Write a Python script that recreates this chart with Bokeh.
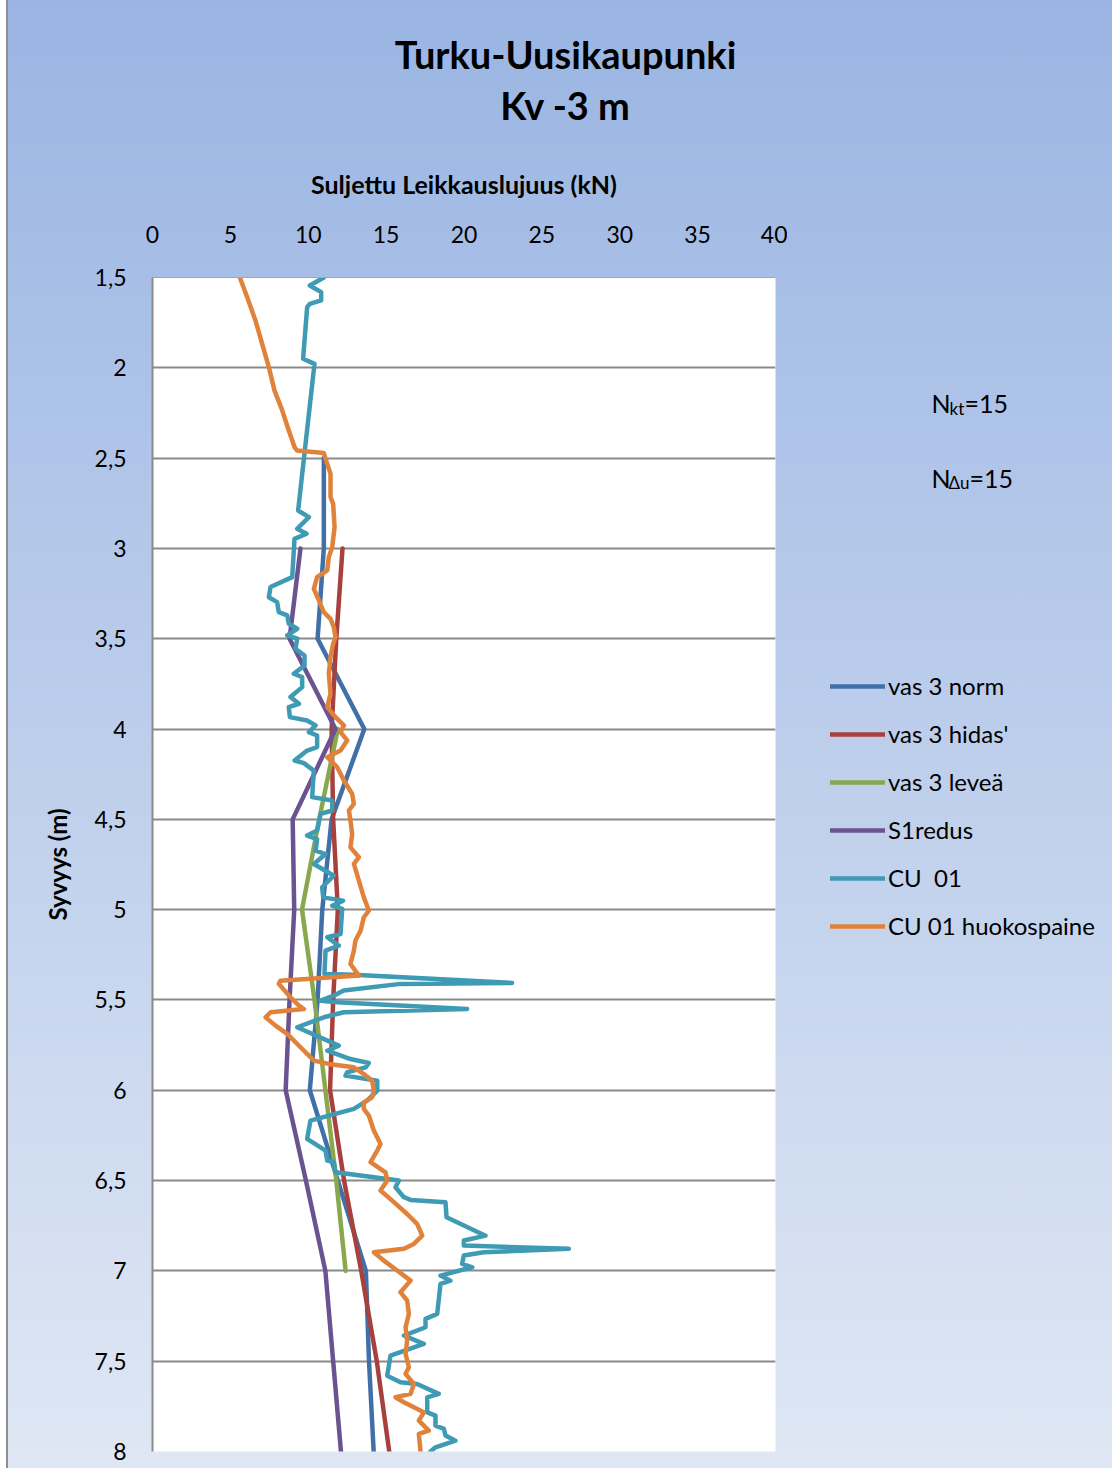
from bokeh.plotting import figure
from bokeh.layouts import column, row
from bokeh.models import Range1d, FixedTicker, Label, Legend, LegendItem
from bokeh.embed import file_html
from bokeh.resources import INLINE

FONT = "Lato"
NAN = float("nan")

# ---- data (depth m, undrained shear strength kN) ----
norm_depth = [2.5, 3.0, 3.5, 4.0, 4.5, 5.0, 5.5, 6.0, 6.5, 7.0, 7.5, 8.0]
norm_su = [11.0, 11.0, 10.6, 13.6, 11.5, 10.9, 10.6, 10.1, 11.9, 13.7, 13.9, 14.2]

hidas_depth = [3.0, 3.5, 4.0, 4.5, 5.0, 5.5, 6.0, 6.5, 7.0, 7.5, 8.0]
hidas_su = [12.2, 11.8, 11.5, 11.6, 11.9, 11.6, 11.4, 12.3, 13.4, 14.4, 15.2]

levea_depth = [4.0, 4.5, 5.0, 5.5, 6.0, 6.5, 7.0]
levea_su = [11.9, 10.7, 9.6, 10.4, 11.1, 11.8, 12.4]

s1_depth = [3.0, 3.5, 4.0, 4.5, 5.0, 5.5, 6.0, 6.5, 7.0, 7.5, 8.0]
s1_su = [9.5, 8.8, 11.75, 9.0, 9.1, 8.8, 8.55, 9.85, 11.1, 11.6, 12.1]

cu_depth = [1.5, 1.544, 1.581, 1.627, 1.646, 1.664, 1.95, 1.978, 2.79, 2.827, 2.891, 2.919,
            2.947, 3.159, 3.214, 3.27, 3.297, 3.353, 3.371, 3.417, 3.445, 3.482, 3.5,
            3.556, 3.593, 3.648, 3.694, 3.713, 3.768, 3.823, 3.86, 3.879, 3.934, 3.953,
            3.98, 4.017, 4.036, 4.1, 4.119, 4.174, 4.189, 4.23, 4.377, 4.396, 4.451,
            4.47, 4.562, 4.59, 4.609, 4.673, 4.692, 4.747, 4.812, 4.876, 4.932, 4.95,
            4.978, 4.996, 5.135, 5.153, 5.199, 5.227, 5.356, 5.36, 5.406, 5.411, 5.448,
            5.476, 5.504, 5.513, 5.55, 5.568, 5.596, 5.651, 5.753, 5.781, 5.827, 5.849,
            5.873, 5.9, 5.919, 5.947, 6.002, 6.057, 6.103, 6.168, 6.269, 6.334, 6.389,
            6.398, 6.454, 6.5, 6.537, 6.592, 6.607, 6.62, 6.703, 6.805, 6.832, 6.86,
            6.878, 6.897, 6.915, 6.961, 6.98, 7.026, 7.054, 7.072, 7.238, 7.266, 7.312,
            7.358, 7.404, 7.469, 7.58, 7.617, 7.626, 7.681, 7.7, 7.783, 7.801, 7.857,
            7.875, 7.912, 7.94, 7.977, 8.0]
cu_su = [11.0, 10.1, 10.83, 10.83, 10.1, 9.93, 9.67, 10.4, 9.35, 10.04, 9.29, 9.89,
         9.12, 8.97, 7.58, 7.47, 8.0, 8.11, 8.65, 8.75, 9.29, 8.65, 9.29,
         9.18, 9.76, 9.76, 9.07, 9.61, 9.61, 8.86, 9.4, 8.75, 8.82, 9.93,
         10.47, 10.04, 10.57, 10.57, 9.93, 9.12, 9.72, 10.36, 10.25, 11.54, 11.54,
         10.79, 10.57, 9.93, 10.57, 10.47, 11.11, 10.36, 11.64, 10.89, 10.96, 12.24,
         11.54, 12.18, 12.07, 11.22, 11.96, 11.11, 11.04, 12.93, 23.09, 15.92, 12.28,
         11.64, 10.79, 11.86, 20.2, 12.28, 11.0, 9.29, 11.96, 11.22, 12.71, 13.89,
         13.68, 12.5, 12.39, 14.43, 14.43, 13.78, 12.93, 10.14, 9.93, 11.11, 11.22,
         11.64, 11.75, 15.82, 15.6, 16.14, 16.57, 18.81, 18.88, 21.38, 19.99, 19.99,
         26.73, 21.27, 19.99, 19.88, 20.53, 18.49, 19.13, 18.49, 18.28, 17.53, 17.53,
         16.14, 17.42, 15.28, 15.07, 15.92, 16.99, 18.38, 17.64, 17.64, 18.17, 18.17,
         18.71, 18.81, 19.45, 18.17, 17.85]

pore_depth = [1.5, 1.609, 1.738, 1.867, 1.996, 2.125, 2.236, 2.347, 2.439, 2.458, 2.472,
              2.532, 2.587, 2.716, 2.753, 2.882, 2.993, 3.048, 3.122, 3.159, 3.224, 3.288,
              3.353, 3.39, 3.436, 3.491, 3.528, 3.602, 3.694, 3.805, 3.879, 3.934, 3.98,
              4.017, 4.063, 4.119, 4.156, 4.211, 4.285, 4.359, 4.414, 4.451, 4.507, 4.581,
              4.655, 4.71, 4.747, 4.839, 4.932, 5.005, 5.042, 5.116, 5.171, 5.227, 5.301,
              5.365, 5.393, 5.411, 5.485, 5.531, 5.55, 5.568, 5.596, 5.642, 5.688, 5.762,
              5.799, 5.836, 5.854, 5.873, 5.91, 5.947, 6.002, 6.039, 6.067, 6.103, 6.14,
              6.223, 6.297, 6.334, 6.398, 6.454, 6.5, 6.555, 6.611, 6.685, 6.74, 6.805,
              6.851, 6.878, 6.897, 6.943, 6.998, 7.054, 7.118, 7.164, 7.238, 7.312, 7.386,
              7.46, 7.534, 7.57, 7.626, 7.681, 7.7, 7.727, 7.783, 7.829, 7.884, 7.903, 8.0]
pore_su = [5.61, 6.08, 6.61, 7.04, 7.47, 7.83, 8.33, 8.75, 9.12, 9.29, 11.0,
           11.22, 11.43, 11.43, 11.6, 11.69, 11.54, 11.32, 11.22, 10.57, 10.36, 10.68,
           11.0, 11.43, 11.64, 11.75, 11.6, 11.43, 11.32, 11.43, 11.22, 11.75, 12.29,
           12.07, 12.5, 12.07, 11.22, 11.86, 12.29, 12.82, 12.93, 12.61, 12.71, 12.82,
           12.71, 13.25, 12.93, 13.25, 13.57, 13.89, 13.57, 13.36, 13.03, 12.93, 12.71,
           13.25, 8.22, 8.11, 8.86, 9.4, 9.72, 7.58, 7.26, 7.9, 8.65, 9.5,
           9.93, 10.36, 11.32, 12.93, 13.57, 14.1, 14.21, 14.1, 13.57, 13.57, 13.89,
           14.21, 14.64, 14.43, 14.0, 14.96, 15.07, 14.64, 15.39, 16.35, 16.99, 17.32,
           16.78, 16.14, 14.21, 14.85, 15.71, 16.57, 15.92, 16.35, 16.46, 16.25, 16.35,
           16.25, 16.46, 16.25, 16.78, 16.57, 15.6, 16.14, 17.42, 17.1, 17.74, 17.1, 17.21]

series_names = ["vas 3 norm", "vas 3 hidas'", "vas 3 leveä", "S1redus", "CU  01", "CU 01 huokospaine"]
series_x = [norm_su, hidas_su, levea_su, s1_su, cu_su, pore_su]
series_y = [norm_depth, hidas_depth, levea_depth, s1_depth, cu_depth, pore_depth]
series_colors = ["#4170a8", "#a8413e", "#89a84d", "#6b5290", "#3f9ab4", "#e0823a"]

x_ticks = [0, 5, 10, 15, 20, 25, 30, 35, 40]
y_ticks = [1.5, 2, 2.5, 3, 3.5, 4, 4.5, 5, 5.5, 6, 6.5, 7, 7.5, 8]
y_tick_labels = ["1,5", "2", "2,5", "3", "3,5", "4", "4,5", "5", "5,5", "6", "6,5", "7", "7,5", "8"]

title_lines = ["Turku-Uusikaupunki", "Kv -3 m"]
x_title = "Suljettu Leikkauslujuus (kN)"
y_title = "Syvyys (m)"

# ---------- layout sizes ----------
TOTAL_W = 1112
TOTAL_H = 1468
TOP_H = 140
MAIN_W = 787
SIDE_W = TOTAL_W - MAIN_W
BODY_H = TOTAL_H - TOP_H
FRAME_TOP = 137           # inside body strip
FRAME_H = 1174
FRAME_BOTTOM = BODY_H - FRAME_TOP - FRAME_H


def blank(fig):
    fig.grid.visible = False
    fig.border_fill_color = None
    fig.background_fill_color = None
    fig.outline_line_color = None


# ---------- title strip ----------
top = figure(frame_width=TOTAL_W, frame_height=TOP_H,
             x_range=Range1d(0, TOTAL_W), y_range=Range1d(TOP_H, 0),
             x_axis_location=None, y_axis_location=None, title_location=None,
             output_backend="svg", toolbar_location=None,
             min_border_left=0, min_border_right=0, min_border_top=0, min_border_bottom=0)
blank(top)
for txt, yb in zip(title_lines, [53, 104]):
    top.add_layout(Label(x=565, y=yb, text=txt, text_align="center", text_baseline="alphabetic",
                         text_font=FONT, text_font_style="bold", text_font_size="38px",
                         text_color="black"))

# ---------- main plot ----------
p = figure(frame_width=623, frame_height=FRAME_H,
           x_range=Range1d(0, 40), y_range=Range1d(8, 1.5),
           x_axis_location="above", title_location=None,
           output_backend="svg", toolbar_location=None,
           min_border_left=152, min_border_right=MAIN_W - 152 - 623,
           min_border_top=FRAME_TOP, min_border_bottom=FRAME_BOTTOM)
p.border_fill_color = None
p.background_fill_color = "white"
p.outline_line_color = None

xa = p.xaxis[0]
xa.ticker = FixedTicker(ticks=x_ticks)
xa.axis_label = x_title
xa.axis_label_text_font = FONT
xa.axis_label_text_font_style = "bold"
xa.axis_label_text_font_size = "25px"
xa.axis_label_text_color = "black"
xa.axis_label_standoff = 24
xa.major_label_text_font = FONT
xa.major_label_text_font_size = "23px"
xa.major_label_text_color = "black"
xa.major_label_standoff = 35
xa.major_tick_out = 0
xa.major_tick_in = 0
xa.minor_tick_out = 0
xa.minor_tick_in = 0
xa.axis_line_color = "#a6a6a6"
xa.axis_line_width = 1

ya = p.yaxis[0]
ya.ticker = FixedTicker(ticks=y_ticks)
ya.major_label_overrides = {t: l for t, l in zip(y_ticks, y_tick_labels)}
ya.axis_label = y_title
ya.axis_label_text_font = FONT
ya.axis_label_text_font_style = "bold"
ya.axis_label_text_font_size = "24px"
ya.axis_label_text_color = "black"
ya.axis_label_standoff = 20
ya.major_label_text_font = FONT
ya.major_label_text_font_size = "23px"
ya.major_label_text_color = "black"
ya.major_label_standoff = 26
ya.major_tick_out = 0
ya.major_tick_in = 0
ya.minor_tick_out = 0
ya.minor_tick_in = 0
ya.axis_line_color = "#8a8a8a"
ya.axis_line_width = 2

p.xgrid.grid_line_color = None
p.ygrid.ticker = FixedTicker(ticks=y_ticks)
p.ygrid.grid_line_color = "#8a8a8a"
p.ygrid.grid_line_width = 2

for xs, ys, col in zip(series_x, series_y, series_colors):
    p.line(xs, ys, line_color=col, line_width=4.5, line_join="round", line_cap="round")

# ---------- side panel: legend and N factors (coordinates = page pixels) ----------
side = figure(frame_width=SIDE_W, frame_height=FRAME_H,
              x_range=Range1d(MAIN_W, TOTAL_W),
              y_range=Range1d(TOP_H + FRAME_TOP + FRAME_H, TOP_H + FRAME_TOP),
              x_axis_location=None, y_axis_location=None, title_location=None,
              output_backend="svg", toolbar_location=None,
              min_border_left=0, min_border_right=0,
              min_border_top=FRAME_TOP, min_border_bottom=FRAME_BOTTOM)
blank(side)

items = []
for name, col in zip(series_names, series_colors):
    r = side.line([NAN], [NAN], line_color=col, line_width=4.5, line_cap="round")
    items.append(LegendItem(label=name, renderers=[r]))

legend = Legend(items=items, location=(830 - MAIN_W, TOP_H + FRAME_TOP + FRAME_H - 940),
                glyph_width=55, glyph_height=24,
                label_height=24, label_standoff=3, spacing=19, padding=0, margin=0,
                border_line_color=None, background_fill_alpha=0,
                label_text_font=FONT, label_text_font_size="24px", label_text_color="black")
side.add_layout(legend)

lab_kw = dict(text_font=FONT, text_baseline="alphabetic", text_color="black")
side.add_layout(Label(x=931, y=402, text="N", text_font_size="25px", **lab_kw))
side.add_layout(Label(x=949, y=408, text="kt", text_font_size="17px", **lab_kw))
side.add_layout(Label(x=964, y=402, text="=15", text_font_size="25px", **lab_kw))
side.add_layout(Label(x=931, y=477, text="N", text_font_size="25px", **lab_kw))
side.add_layout(Label(x=948, y=482, text="Δu", text_font_size="17px", **lab_kw))
side.add_layout(Label(x=969, y=477, text="=15", text_font_size="25px", **lab_kw))

root = column(top, row(p, side, spacing=0), spacing=0)
root.styles = {
    "margin-bottom": "-8px",
    "background": "linear-gradient(to right, #ffffff 0px, #ffffff 6px, #8e8e8e 6px, #8e8e8e 8px, transparent 8px), "
                  "linear-gradient(180deg, #9ab5e3 0%, #dfe7f4 100%)",
}

open("out.html", "w").write(file_html(root, INLINE))
